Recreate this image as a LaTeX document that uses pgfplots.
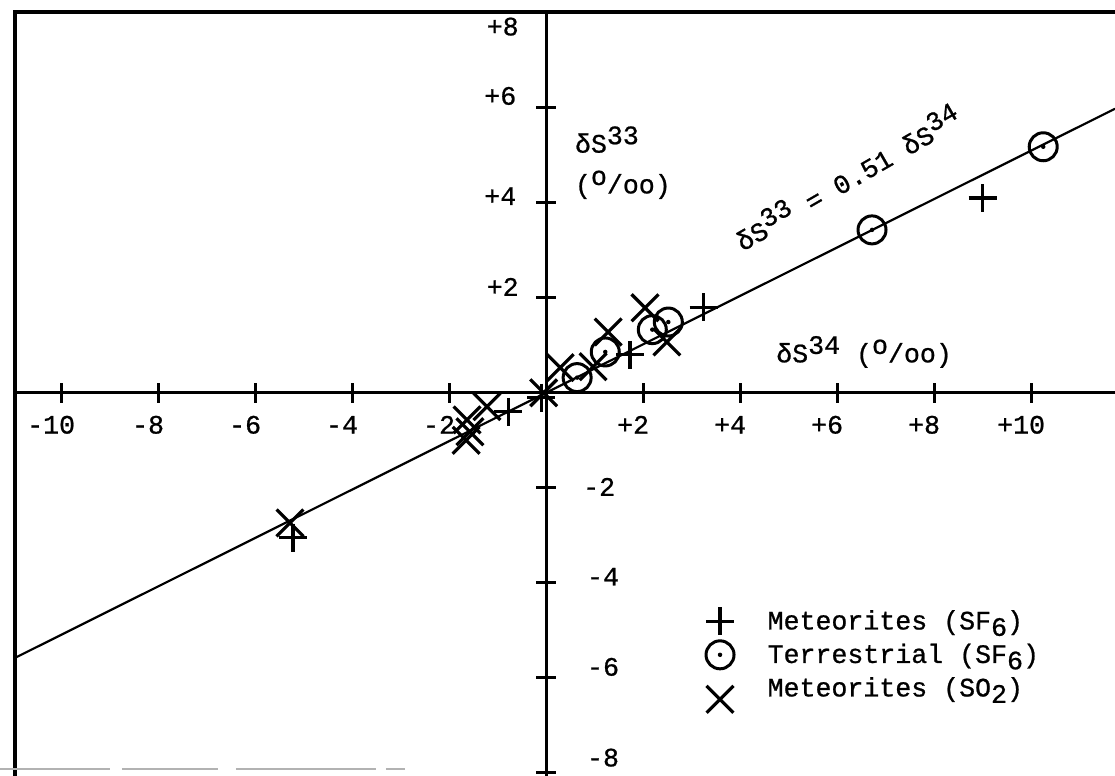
\documentclass[border=0pt]{standalone}
\usepackage{fontspec}
\setmainfont{Liberation Mono}[FakeBold=0.8]
\usepackage{pgfplots}
\pgfplotsset{compat=1.18}

% circle with a centre dot
\pgfdeclareplotmark{odot}{%
  \pgfpathcircle{\pgfpointorigin}{\pgfplotmarksize}\pgfusepathqstroke
  \pgfpathcircle{\pgfpointorigin}{0.16\pgfplotmarksize}\pgfusepathqfill}

\pgfplotsset{
  markleg/.style={legend image code/.code={%
    \path (0pt,0pt) (30pt,0pt);
    \draw[mark repeat=2,mark phase=2,##1]
      plot coordinates {(0pt,0pt) (9pt,0pt) (30pt,0pt)};}},
  marklow/.style={legend image code/.code={%
    \path (0pt,0pt) (30pt,0pt);
    \draw[mark repeat=2,mark phase=2,##1]
      plot coordinates {(0pt,0pt) (9pt,-5.5pt) (30pt,0pt)};}},
}

\newcommand\up[1]{\raisebox{0.6ex}{#1}}
\newcommand\dn[1]{\raisebox{-0.45ex}{#1}}
\newcommand\permil{(\raisebox{0.6ex}{o}/oo)}

\begin{document}
\begin{tikzpicture}[font=\fontsize{13.3}{15}\selectfont]
\begin{axis}[
  x=24.25pt, y=23.75pt,
  xmin=-10.95, xmax=11.73, ymin=-8.06, ymax=8.02,
  axis lines=middle,
  axis line style={-, line width=1.4pt},
  clip=false,
  xtick={-10,-8,-6,-4,-2,2,4,6,8,10},
  xticklabels={{-10},{-8},{-6},{-4},{-2},{+2},{+4},{+6},{+8},{+10}},
  ytick={-8,-6,-4,-2,2,4,6,8},
  yticklabels={},
  tick align=center,
  major tick length=10pt,
  tick style={line width=1.5pt, black},
  x tick label style={anchor=center, yshift=-11pt, xshift=-5pt},
  legend style={at={(axis cs:3.05,-4.4)}, anchor=north west, draw=none,
    fill=none, row sep=1.6pt, nodes={inner sep=2pt},
    font=\fontsize{13.3}{15}\selectfont},
  legend cell align=left,
  markleg,
]
% outer frame (top and left edges)
\draw[line width=2pt] (axis cs:-10.95,-8.06) -- (axis cs:-10.95,8.02)
  -- (axis cs:11.73,8.02);
\draw[gray!60, line width=1.4pt, dash pattern=on 55pt off 6pt on 48pt off 9pt on 70pt off 5pt]
  (axis cs:-11.26,-7.92) -- (axis cs:-2.9,-7.92);

% fitted line dS33 = 0.51 dS34
\addplot[black, line width=1.1pt, forget plot]
  coordinates {(-10.95,-5.58) (11.73,5.98)};

% Meteorites (SF6)
\addplot[only marks, mark=+, mark size=7pt, line width=1.6pt, black]
  coordinates {(9.0,4.1) (3.25,1.8) (1.73,0.8) (-0.1,-0.1)
               (-0.78,-0.4) (-5.22,-3.05)};
\addlegendentry{Meteorites (SF\dn{6})}

% Terrestrial (SF6)
\addplot[only marks, mark=odot, mark size=7pt, line width=1.5pt, black]
  coordinates {(10.25,5.18) (6.72,3.43) (0.64,0.32) (1.22,0.86)
               (2.19,1.33) (2.52,1.49)};
\addlegendentry{Terrestrial (SF\dn{6})}

% Meteorites (SO2)
\addplot[only marks, mark=x, mark size=9.5pt, line width=1.6pt, black, marklow]
  coordinates {(0.29,0.53) (0.97,0.55) (1.28,1.28) (2.04,1.79)
               (2.49,1.07) (-0.05,0.0) (-1.22,-0.29) (-1.63,-0.57)
               (-1.57,-0.82) (-1.65,-1.0) (-5.28,-2.74)};
\addlegendentry{Meteorites (SO\dn{2})}

% y tick labels: positive on the left, negative on the right
\node[anchor=east] at (axis cs:-0.42,7.71) {+8};
\node[anchor=east] at (axis cs:-0.47,6.25) {+6};
\node[anchor=east] at (axis cs:-0.47,4.14) {+4};
\node[anchor=east] at (axis cs:-0.42,2.23) {+2};
\node[anchor=west] at (axis cs:0.62,-1.98) {-2};
\node[anchor=west] at (axis cs:0.7,-3.87) {-4};
\node[anchor=west] at (axis cs:0.7,-5.77) {-6};
\node[anchor=west] at (axis cs:0.7,-7.68) {-8};

% axis titles and the fitted relation
\node[anchor=west] at (axis cs:0.45,5.33) {δS\up{33}};
\node[anchor=west] at (axis cs:0.45,4.38) {\permil};
\node[anchor=west] at (axis cs:4.6,0.86) {δS\up{34} \permil};
\node[rotate=30] at (axis cs:6.2,4.55) {δS\up{33} = 0.51 δS\up{34}};

\coordinate (bbll) at (axis cs:-11.26,-8.06);
\coordinate (bbur) at (axis cs:11.73,8.27);
\end{axis}
\pgfresetboundingbox
\useasboundingbox (bbll) rectangle (bbur);
\end{tikzpicture}
\end{document}
